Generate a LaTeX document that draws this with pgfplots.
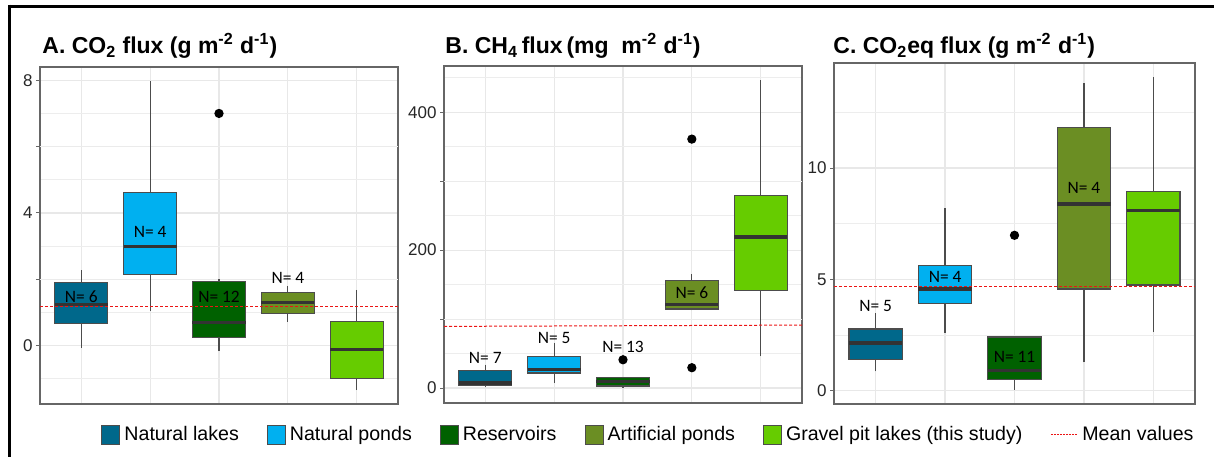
\documentclass[border=0pt]{standalone}
\usepackage{pgfplots}
\pgfplotsset{compat=1.18}
\usepgfplotslibrary{statistics}
\usepackage{fontspec}
\setmainfont{Liberation Sans}
\newfontfamily\calfont{Carlito}
\definecolor{nlakes}{RGB}{0,104,139}
\definecolor{nponds}{RGB}{0,176,240}
\definecolor{reserv}{RGB}{0,97,0}
\definecolor{artif}{RGB}{107,142,35}
\definecolor{gravel}{RGB}{102,204,0}
\definecolor{meanred}{RGB}{235,20,20}
\tikzset{nlab/.style={font=\calfont\fontsize{8.7}{10}\selectfont, inner sep=0pt}}
\pgfplotsset{
  panel/.style={
    scale only axis, width=179pt, height=168.5pt,
    xmin=0.4, xmax=5.6, xtick={1,2,3,4,5}, xticklabels={},
    x tick style={draw=none}, ytick pos=left,
    axis line style={draw=black!60, line width=0.6pt},
    grid=both,
    major grid style={draw=black!9, line width=0.6pt},
    minor grid style={draw=black!7, line width=0.5pt},
    tick align=outside, major tick length=2pt, minor tick length=0pt,
    y tick style={draw=black!60, line width=0.5pt},
    /pgf/number format/assume math mode=true,
    yticklabel style={font=\fontsize{8.5}{9}\selectfont, text=black!85, inner sep=1.5pt},
    extra y tick labels={},
    extra y tick style={grid=major, major grid style={draw=black!8, line width=0.5pt}},
    clip=false,
  },
  box/.style={
    forget plot, fill=#1, draw=black!70, line width=0.6pt, solid,
    mark=*, mark size=2pt, mark options={fill=black, draw=black},
    boxplot/draw direction=y,
    boxplot/box extend=0.77, boxplot/whisker extend=0,
    boxplot/every median/.style={draw=black!80, line width=1.6pt},
  },
  meanline/.style={forget plot, meanred, line width=0.5pt, dash pattern=on 1.5pt off 1pt},
}

\begin{document}
\begin{tikzpicture}
\path[use as bounding box] (0pt,0pt) rectangle (607pt,-228.5pt);
\draw[line width=1.5pt] (4pt,-3pt) -- (607pt,-3pt);
\draw[line width=1.5pt] (4.75pt,-2.25pt) -- (4.75pt,-228.5pt);

\node[anchor=base west, inner sep=0pt, font=\bfseries\fontsize{11.5}{13}\selectfont] at (21pt,-26.7pt)
  {A. CO\textsubscript{2} flux (g m\textsuperscript{-2} d\textsuperscript{-1})};
\node[anchor=base west, inner sep=0pt, font=\bfseries\fontsize{11.5}{13}\selectfont] at (222.5pt,-26.7pt)
  {B. CH\textsubscript{4}\,flux\,(mg\ \ m\textsuperscript{-2} d\textsuperscript{-1})};
\node[anchor=base west, inner sep=0pt, font=\bfseries\fontsize{11.5}{13}\selectfont] at (416.5pt,-26.7pt)
  {C. CO\textsubscript{2}eq flux (g m\textsuperscript{-2} d\textsuperscript{-1})};

% A: CO2
\begin{axis}[panel, at={(20pt,-202pt)}, anchor=south west,
  ymin=-1.76, ymax=8.4, ytick={0,4,8}, minor ytick={-1,1,3,5,7}, extra y ticks={2,6}]
  \addplot[box=nlakes, boxplot prepared={draw position=1, lower whisker=-0.06, lower quartile=0.67, median=1.23, upper quartile=1.90, upper whisker=2.28}] coordinates {};
  \addplot[box=nponds, boxplot prepared={draw position=2, lower whisker=1.04, lower quartile=2.14, median=3.00, upper quartile=4.61, upper whisker=7.98}] coordinates {};
  \addplot[box=reserv, boxplot prepared={draw position=3, lower whisker=-0.15, lower quartile=0.25, median=0.70, upper quartile=1.93, upper whisker=2.00}] coordinates {(0,7.0)};
  \addplot[box=artif, boxplot prepared={draw position=4, lower whisker=0.72, lower quartile=0.97, median=1.29, upper quartile=1.60, upper whisker=1.80}] coordinates {};
  \addplot[box=gravel, boxplot prepared={draw position=5, lower whisker=-1.34, lower quartile=-1.00, median=-0.12, upper quartile=0.72, upper whisker=1.68}] coordinates {};
  \addplot[meanline] coordinates {(0.4,1.17) (5.6,1.17)};
  \node[nlab] at (axis cs:1,1.49) {N= 6};
  \node[nlab] at (axis cs:2,3.42) {N= 4};
  \node[nlab] at (axis cs:3,1.46) {N= 12};
  \node[nlab] at (axis cs:4,2.03) {N= 4};
\end{axis}

% B: CH4
\begin{axis}[panel, at={(222pt,-201.5pt)}, anchor=south west,
  ymin=-21.7, ymax=467, ytick={0,200,400}, minor ytick={50,150,250,350,450}, extra y ticks={100,300},
  legend columns=6,
  legend style={at={(0.574,-0.0935)}, anchor=center, draw=none, fill=none,
    font=\fontsize{9.8}{11}\selectfont, inner sep=0pt,
    /tikz/every even column/.append style={column sep=12pt}}]
  \addplot[box=nlakes, boxplot prepared={draw position=1, lower whisker=1, lower quartile=4.3, median=7.2, upper quartile=26, upper whisker=33.8}] coordinates {};
  \addplot[box=nponds, boxplot prepared={draw position=2, lower whisker=7.2, lower quartile=21.7, median=27, upper quartile=45.9, upper whisker=66}] coordinates {};
  \addplot[box=reserv, boxplot prepared={draw position=3, lower whisker=0, lower quartile=2.9, median=10, upper quartile=15.5, upper whisker=15.5}] coordinates {(0,41)};
  \addplot[box=artif, boxplot prepared={draw position=4, lower whisker=112.6, lower quartile=114.5, median=121.7, upper quartile=155.6, upper whisker=165.7}] coordinates {(0,361) (0,29.5)};
  \addplot[box=gravel, boxplot prepared={draw position=5, lower whisker=46, lower quartile=141, median=219, upper quartile=279, upper whisker=446}] coordinates {};
  \addplot[meanline] coordinates {(0.4,89.4) (5.6,91.3)};
  \node[nlab] at (axis cs:1,44) {N= 7};
  \node[nlab] at (axis cs:2,73) {N= 5};
  \node[nlab] at (axis cs:3,59) {N= 13};
  \node[nlab] at (axis cs:4,139) {N= 6};

  \addlegendimage{legend image code/.code={\draw[fill=nlakes, draw=black!70, line width=0.5pt] (0pt,-4.75pt) rectangle (9pt,4.75pt);}}
  \addlegendentry{Natural lakes}
  \addlegendimage{legend image code/.code={\draw[fill=nponds, draw=black!70, line width=0.5pt] (0pt,-4.75pt) rectangle (9pt,4.75pt);}}
  \addlegendentry{Natural ponds}
  \addlegendimage{legend image code/.code={\draw[fill=reserv, draw=black!70, line width=0.5pt] (0pt,-4.75pt) rectangle (9pt,4.75pt);}}
  \addlegendentry{Reservoirs}
  \addlegendimage{legend image code/.code={\draw[fill=artif, draw=black!70, line width=0.5pt] (0pt,-4.75pt) rectangle (9pt,4.75pt);}}
  \addlegendentry{Artificial ponds}
  \addlegendimage{legend image code/.code={\draw[fill=gravel, draw=black!70, line width=0.5pt] (0pt,-4.75pt) rectangle (9pt,4.75pt);}}
  \addlegendentry{Gravel pit lakes (this study)}
  \addlegendimage{legend image code/.code={\draw[meanred, line width=0.5pt, dash pattern=on 1pt off 0.5pt] (0pt,0pt) -- (13.5pt,0pt);}}
  \addlegendentry{Mean values}
\end{axis}

% C: CO2eq
\begin{axis}[panel, at={(417pt,-202pt)}, anchor=south west, width=180.5pt, height=170.5pt,
  ymin=-0.6, ymax=14.72, ytick={0,5,10}, minor ytick={2.5,7.5,12.5}]
  \addplot[box=nlakes, boxplot prepared={draw position=1, lower whisker=0.87, lower quartile=1.39, median=2.14, upper quartile=2.77, upper whisker=3.48}] coordinates {};
  \addplot[box=nponds, boxplot prepared={draw position=2, lower whisker=2.59, lower quartile=3.90, median=4.57, upper quartile=5.62, upper whisker=8.19}] coordinates {};
  \addplot[box=reserv, boxplot prepared={draw position=3, lower whisker=0.04, lower quartile=0.49, median=0.90, upper quartile=2.41, upper whisker=2.41}] coordinates {(0,6.98)};
  \addplot[box=artif, boxplot prepared={draw position=4, lower whisker=1.27, lower quartile=4.57, median=8.39, upper quartile=11.81, upper whisker=13.8}] coordinates {};
  \addplot[box=gravel, boxplot prepared={draw position=5, lower whisker=2.63, lower quartile=4.75, median=8.09, upper quartile=8.94, upper whisker=14.07}] coordinates {};
  \addplot[meanline] coordinates {(0.4,4.68) (5.6,4.68)};
  \node[nlab] at (axis cs:1,3.81) {N= 5};
  \node[nlab] at (axis cs:2,5.10) {N= 4};
  \node[nlab] at (axis cs:3,1.51) {N= 11};
  \node[nlab] at (axis cs:4,9.09) {N= 4};
\end{axis}
\end{tikzpicture}
\end{document}
